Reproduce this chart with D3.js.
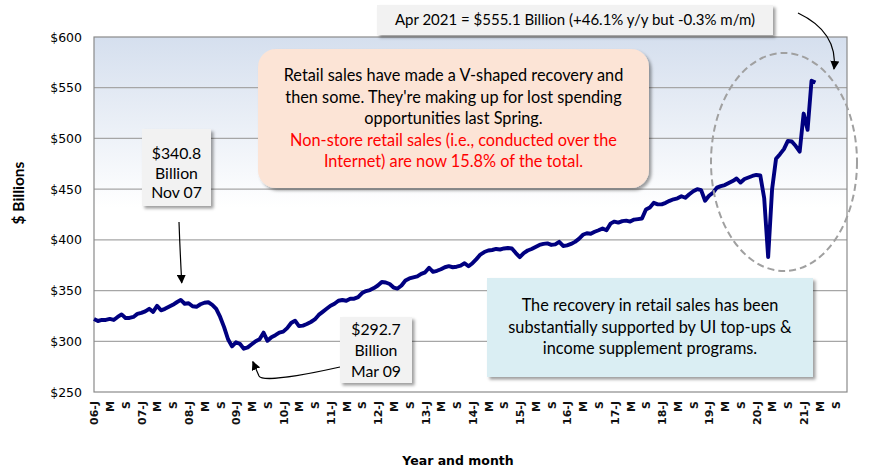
<!DOCTYPE html>
<html><head><meta charset="utf-8">
<script src="https://cdn.jsdelivr.net/npm/d3@7"></script>
<style>
body{margin:0;background:#fff;}
svg{display:block;}
</style></head><body>
<svg id="chart" width="870" height="472"></svg>
<script>
// ---------- DATA ----------
const startYear = 2006; // first month = Jan 2006
const sales = [
  // 2006
  322, 320, 321, 321, 322, 321, 324, 326.5, 323, 323, 324, 327,
  // 2007
  328, 329.5, 332, 329, 335, 330.5, 332, 334, 336, 338.5, 340.8, 337,
  // 2008
  337.5, 334.5, 334, 336.5, 338, 338.5, 336, 332, 324, 314, 302, 295,
  // 2009
  299, 297.5, 292.7, 294, 297, 300, 302, 308.5, 300.5, 304, 306, 308.5,
  // 2010
  309.5, 313, 318, 320.3, 315, 315.5, 317, 319, 321.5, 326, 329, 332,
  // 2011
  335, 337, 340, 340.7, 340, 342, 342, 343.5, 347.5, 349.5, 350.5, 352.5,
  // 2012
  355, 358.5, 358, 356.5, 353, 352, 355, 360, 362, 363, 364, 366.5,
  // 2013
  368, 372.5, 368.5, 369.5, 371, 373, 374, 373, 373.5, 374.5, 377, 374,
  // 2014
  377, 381, 385.5, 388, 389.5, 390, 391, 390.5, 391.5, 392, 391.5, 387,
  // 2015
  383, 387, 389.5, 391, 393, 395, 396, 396.5, 395, 395.5, 398, 394,
  // 2016
  394.5, 396, 398, 401, 405, 406.5, 406, 408, 409.5, 411.3, 409.5, 416,
  // 2017
  418, 417, 418.5, 419, 418, 420, 420.5, 421, 430, 432, 436.5, 435,
  // 2018
  435, 436.5, 438.5, 440, 441, 443, 441.5, 445, 448, 450, 449, 438.6,
  // 2019
  443.5, 446.5, 451.5, 453, 454, 456, 458, 460.5, 456.5, 460, 461.5, 463,
  // 2020
  464, 463.5, 441, 383, 450, 480, 484.5, 489.5, 497.5, 497, 492.5, 487,
  // 2021
  524.5, 508.5, 556.8, 555.1
];
const tickLabels = [
  "06-J","M","S","07-J","M","S","08-J","M","S","09-J","M","S",
  "10-J","M","S","11-J","M","S","12-J","M","S","13-J","M","S",
  "14-J","M","S","15-J","M","S","16-J","M","S","17-J","M","S",
  "18-J","M","S","19-J","M","S","20-J","M","S","21-J","M","S"
];
const yTicks = [250, 300, 350, 400, 450, 500, 550, 600];
const yTitle = "$ Billions";
const xTitle = "Year and month";
const topNote = "Apr 2021 = $555.1 Billion (+46.1% y/y but -0.3% m/m)";
const peakNote = ["$340.8", "Billion", "Nov 07"];
const troughNote = ["$292.7", "Billion", "Mar 09"];
const mainNoteBlack = ["Retail sales have made a V-shaped recovery and",
                       "then some. They're making up for lost spending",
                       "opportunities last Spring."];
const mainNoteRed = ["Non-store retail sales (i.e., conducted over the",
                     "Internet) are now 15.8% of the total."];
const blueNote = ["The recovery in retail sales has been",
                  "substantially supported by UI top-ups &",
                  "income supplement programs."];
const peakIdx = 22, troughIdx = 38, lastIdx = sales.length - 1;

// ---------- LAYOUT ----------
const svg = d3.select("#chart");
const L = 94, R = 847, T = 37, B = 392;
const x = d3.scaleLinear().domain([0, 191]).range([L, R]);
const y = d3.scaleLinear().domain([250, 600]).range([B, T]);
const noteFont = "Lato, 'Open Sans', sans-serif";

const defs = svg.append("defs");
const grad = defs.append("linearGradient").attr("id", "bg")
  .attr("x1", 0).attr("y1", 0).attr("x2", 0).attr("y2", 1);
grad.append("stop").attr("offset", 0).attr("stop-color", "#d5dfee");
grad.append("stop").attr("offset", 0.48).attr("stop-color", "#ffffff");
grad.append("stop").attr("offset", 1).attr("stop-color", "#ffffff");
const sh = defs.append("filter").attr("id", "shadow")
  .attr("x", "-10%").attr("y", "-10%").attr("width", "130%").attr("height", "140%");
sh.append("feDropShadow").attr("dx", 2.5).attr("dy", 2.5).attr("stdDeviation", 1.6)
  .attr("flood-color", "#000").attr("flood-opacity", 0.38);
defs.append("marker").attr("id", "arrow").attr("viewBox", "0 0 10 10")
  .attr("refX", 9).attr("refY", 5).attr("markerWidth", 9).attr("markerHeight", 9)
  .attr("markerUnits", "userSpaceOnUse").attr("orient", "auto")
  .append("path").attr("d", "M0,0 L10,5 L0,10 Z").attr("fill", "#000");

// plot background
svg.append("rect").attr("x", L).attr("y", T).attr("width", R - L).attr("height", B - T)
  .attr("fill", "url(#bg)");

// gridlines
svg.append("g").selectAll("line").data(yTicks.filter(v => v > 250 && v < 600)).join("line")
  .attr("x1", L).attr("x2", R).attr("y1", d => y(d)).attr("y2", d => y(d))
  .attr("stroke", "#a6a6a6").attr("stroke-width", 1.2);

// border
svg.append("rect").attr("x", L).attr("y", T).attr("width", R - L).attr("height", B - T)
  .attr("fill", "none").attr("stroke", "#8a8a8a").attr("stroke-width", 1.2);

// y axis
const yAxis = d3.axisLeft(y).tickValues(yTicks).tickSize(0).tickPadding(12)
  .tickFormat(d => "$" + d);
const gy = svg.append("g").attr("transform", `translate(${L},0)`).call(yAxis);
gy.select(".domain").remove();
gy.selectAll("text").attr("font-family", "'DejaVu Sans', sans-serif")
  .attr("font-size", 12.5).attr("fill", "#000");

// x axis
const xTickVals = tickLabels.map((d, i) => i * 4);
const xAxis = d3.axisBottom(x).tickValues(xTickVals).tickSize(0).tickPadding(0)
  .tickFormat((d, i) => tickLabels[i]);
const gx = svg.append("g").attr("transform", `translate(0,${B})`).call(xAxis);
gx.select(".domain").remove();
gx.selectAll("text")
  .attr("font-family", "'DejaVu Sans', sans-serif").attr("font-size", 11)
  .attr("font-weight", "bold").attr("fill", "#111")
  .attr("text-anchor", "end").attr("dy", "0.35em").attr("y", 0)
  .attr("transform", "translate(0,9) rotate(-90)");

// axis titles
svg.append("text").attr("transform", "translate(20,193) rotate(-90)")
  .attr("text-anchor", "middle").attr("dominant-baseline", "middle")
  .attr("font-family", "Lato, sans-serif")
  .attr("font-weight", "bold").attr("font-size", 15.5).text(yTitle);
svg.append("text").attr("x", 458).attr("y", 465).attr("text-anchor", "middle")
  .attr("font-family", "'DejaVu Sans', sans-serif").attr("font-weight", "bold")
  .attr("font-size", 12.5).text(xTitle);

// line
const line = d3.line().x((d, i) => x(i)).y(d => y(d)).curve(d3.curveLinear);
svg.append("path").datum(sales).attr("d", line).attr("fill", "none")
  .attr("stroke", "#000080").attr("stroke-width", 3.9)
  .attr("stroke-linejoin", "round").attr("stroke-linecap", "butt");

// dashed ellipse
svg.append("ellipse").attr("cx", 784).attr("cy", 162).attr("rx", 73).attr("ry", 109)
  .attr("fill", "none").attr("stroke", "#a0a0a0").attr("stroke-width", 2)
  .attr("stroke-dasharray", "7,4");

// ---------- annotations ----------
function box(x0, y0, w, h, fill, rx) {
  svg.append("rect").attr("x", x0).attr("y", y0).attr("width", w).attr("height", h)
    .attr("rx", rx || 0).attr("fill", fill).attr("filter", "url(#shadow)");
}
function lines(arr, cx, y0, dy, color, size) {
  svg.append("g").selectAll("text").data(arr).join("text")
    .attr("x", cx).attr("y", (d, i) => y0 + i * dy).attr("text-anchor", "middle")
    .attr("dominant-baseline", "middle")
    .attr("font-family", noteFont).attr("font-size", size).attr("fill", color).text(d => d);
}

// top note
box(377, 5, 396, 30, "#f2f2f2");
svg.append("text").attr("x", 575).attr("y", 21).attr("text-anchor", "middle")
  .attr("dominant-baseline", "middle").attr("font-family", noteFont)
  .attr("font-size", 15).text(topNote);
svg.append("path").attr("d", "M798,13 Q838,32 834,69").attr("fill", "none")
  .attr("stroke", "#000").attr("stroke-width", 1.2).attr("marker-end", "url(#arrow)");

// main pink note
box(258, 49, 391, 139, "#fce4d6", 18);
lines(mainNoteBlack, 453.5, 77, 21.5, "#000", 16.3);
lines(mainNoteRed, 453.5, 77 + 3 * 21.5, 21.5, "#ff0000", 16.3);

// Nov 07 note
box(142, 129, 69, 77, "#f2f2f2");
lines(peakNote, 176.5, 155, 19.5, "#000", 15.8);
svg.append("path")
  .attr("d", `M179,${222} Q180,250 ${x(peakIdx) + 1},${y(sales[peakIdx]) - 17}`)
  .attr("fill", "none").attr("stroke", "#000").attr("stroke-width", 1.2)
  .attr("marker-end", "url(#arrow)");

// Mar 09 note
box(340, 317, 72, 66, "#f2f2f2");
lines(troughNote, 376, 331, 21, "#000", 15.8);
svg.append("path")
  .attr("d", `M340,367 C300,376 262,382 259,376 L${x(troughIdx) + 9},${y(sales[troughIdx]) + 13}`)
  .attr("fill", "none").attr("stroke", "#000").attr("stroke-width", 1.2)
  .attr("marker-end", "url(#arrow)");

// blue note
box(487, 278, 326, 99, "#daeef3");
lines(blueNote, 650, 307, 21.5, "#000", 16.3);
</script>
</body></html>
